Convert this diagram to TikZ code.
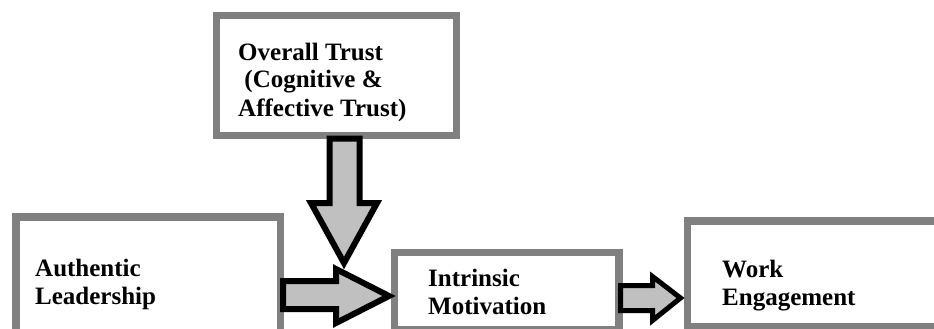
\documentclass[tikz,border=0pt]{standalone}
\usepackage{fontspec}
\setmainfont{Liberation Serif}
\definecolor{boxgray}{HTML}{808080}
\definecolor{arrowgray}{HTML}{C0C0C0}
\begin{document}
\begin{tikzpicture}[x=1pt,y=-1pt,
  box/.style={draw=boxgray, line width=7.5pt, inner sep=0pt, outer sep=0pt, anchor=north west, rectangle},
  blockarrow/.style={draw=black, fill=arrowgray, line width=6pt, line join=miter},
  lbl/.style={anchor=base west, inner sep=0pt, font=\bfseries\fontsize{25}{28}\selectfont}]
\useasboundingbox (0,0) rectangle (934,329);
\clip (0,0) rectangle (934,329);
\fill[white] (0,0) rectangle (934,329);
% boxes
\node[box, minimum width=240pt, minimum height=120pt] (trust) at (216.5,15.5) {};
\node[box, minimum width=264.5pt, minimum height=118pt] (auth) at (16,217) {};
\node[box, minimum width=224.5pt, minimum height=77pt] (intr) at (394.5,252.5) {};
\node[box, minimum width=260pt, minimum height=105.5pt] (work) at (687.5,221) {};
% texts
\node[lbl] (trusttxt) at (238,60) {\begin{tabular}[t]{@{}l@{}}Overall Trust\\\ (Cognitive \&\\Affective Trust)\end{tabular}};
\node[lbl] (authtxt) at (35,276) {\begin{tabular}[t]{@{}l@{}}Authentic\\Leadership\end{tabular}};
\node[lbl] (intrtxt) at (428,286) {\begin{tabular}[t]{@{}l@{}}Intrinsic\\Motivation\end{tabular}};
\node[lbl] (worktxt) at (722,277) {\begin{tabular}[t]{@{}l@{}}Work\\Engagement\end{tabular}};
% block arrows
\draw[blockarrow] (283,281) -- (336,281) -- (336,269) -- (389,296) -- (336,323) -- (336,309) -- (283,309) -- cycle;
\draw[blockarrow] (329.5,138.5) -- (359.5,138.5) -- (359.5,203) -- (377,203) -- (344,263) -- (311,203) -- (329.5,203) -- cycle;
\draw[blockarrow, line width=5pt] (620.5,285.5) -- (652.5,285.5) -- (652.5,276.5) -- (680.5,298) -- (652.5,320.5) -- (652.5,310.5) -- (620.5,310.5) -- cycle;
\end{tikzpicture}
\end{document}
